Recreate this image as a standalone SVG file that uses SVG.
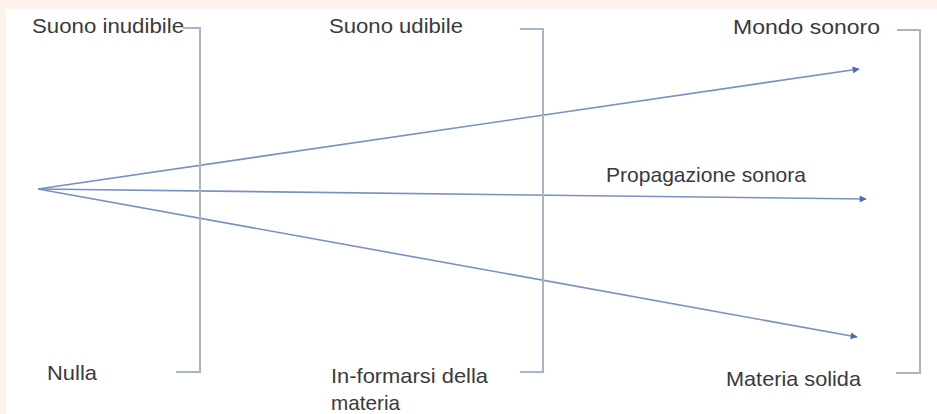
<svg xmlns="http://www.w3.org/2000/svg" width="937" height="414" viewBox="0 0 937 414">
<style>
.t{font-family:"Liberation Sans",Arial,sans-serif;font-size:21px;fill:#3a3a3a}
.br{fill:none;stroke:#a6b6c8;stroke-width:2}
.ar{fill:none;stroke:#7890c2;stroke-width:1.6}
</style>
<defs>
<marker id="ah" viewBox="0 0 10 10" refX="9" refY="5" markerWidth="9" markerHeight="7" markerUnits="userSpaceOnUse" orient="auto">
<path d="M0,0 L10,5 L0,10 z" fill="#4a6db3"/>
</marker>
</defs>
<rect x="0" y="0" width="937" height="414" fill="#fdf2ec"/>
<rect x="6" y="9" width="931" height="405" fill="#ffffff"/>
<g id="connectors">
<line class="ar" x1="38" y1="189" x2="859" y2="69" marker-end="url(#ah)"/>
<line class="ar" x1="38" y1="189" x2="866" y2="199" marker-end="url(#ah)"/>
<line class="ar" x1="38" y1="189" x2="857" y2="337" marker-end="url(#ah)"/>
</g>
<g id="bracket1"><path class="br" d="M183,28 H200 V372 H176"/></g>
<g id="bracket2"><path class="br" d="M520,29 H543 V372 H520"/></g>
<g id="bracket3"><path class="br" d="M897,30 H920 V373 H896"/></g>
<g id="n-suono-inudibile"><text class="t" x="32" y="33" textLength="152" lengthAdjust="spacingAndGlyphs">Suono inudibile</text></g>
<g id="n-suono-udibile"><text class="t" x="329" y="33" textLength="134" lengthAdjust="spacingAndGlyphs">Suono udibile</text></g>
<g id="n-mondo-sonoro"><text class="t" x="733" y="34" textLength="147" lengthAdjust="spacingAndGlyphs">Mondo sonoro</text></g>
<g id="n-propagazione"><text class="t" x="606" y="182" textLength="200" lengthAdjust="spacingAndGlyphs">Propagazione sonora</text></g>
<g id="n-nulla"><text class="t" x="47" y="380" textLength="50" lengthAdjust="spacingAndGlyphs">Nulla</text></g>
<g id="n-informarsi"><text class="t" x="331" y="383" textLength="157" lengthAdjust="spacingAndGlyphs">In-formarsi della</text><text class="t" x="331" y="410" textLength="69" lengthAdjust="spacingAndGlyphs">materia</text></g>
<g id="n-materia-solida"><text class="t" x="726" y="386" textLength="135" lengthAdjust="spacingAndGlyphs">Materia solida</text></g>
</svg>
